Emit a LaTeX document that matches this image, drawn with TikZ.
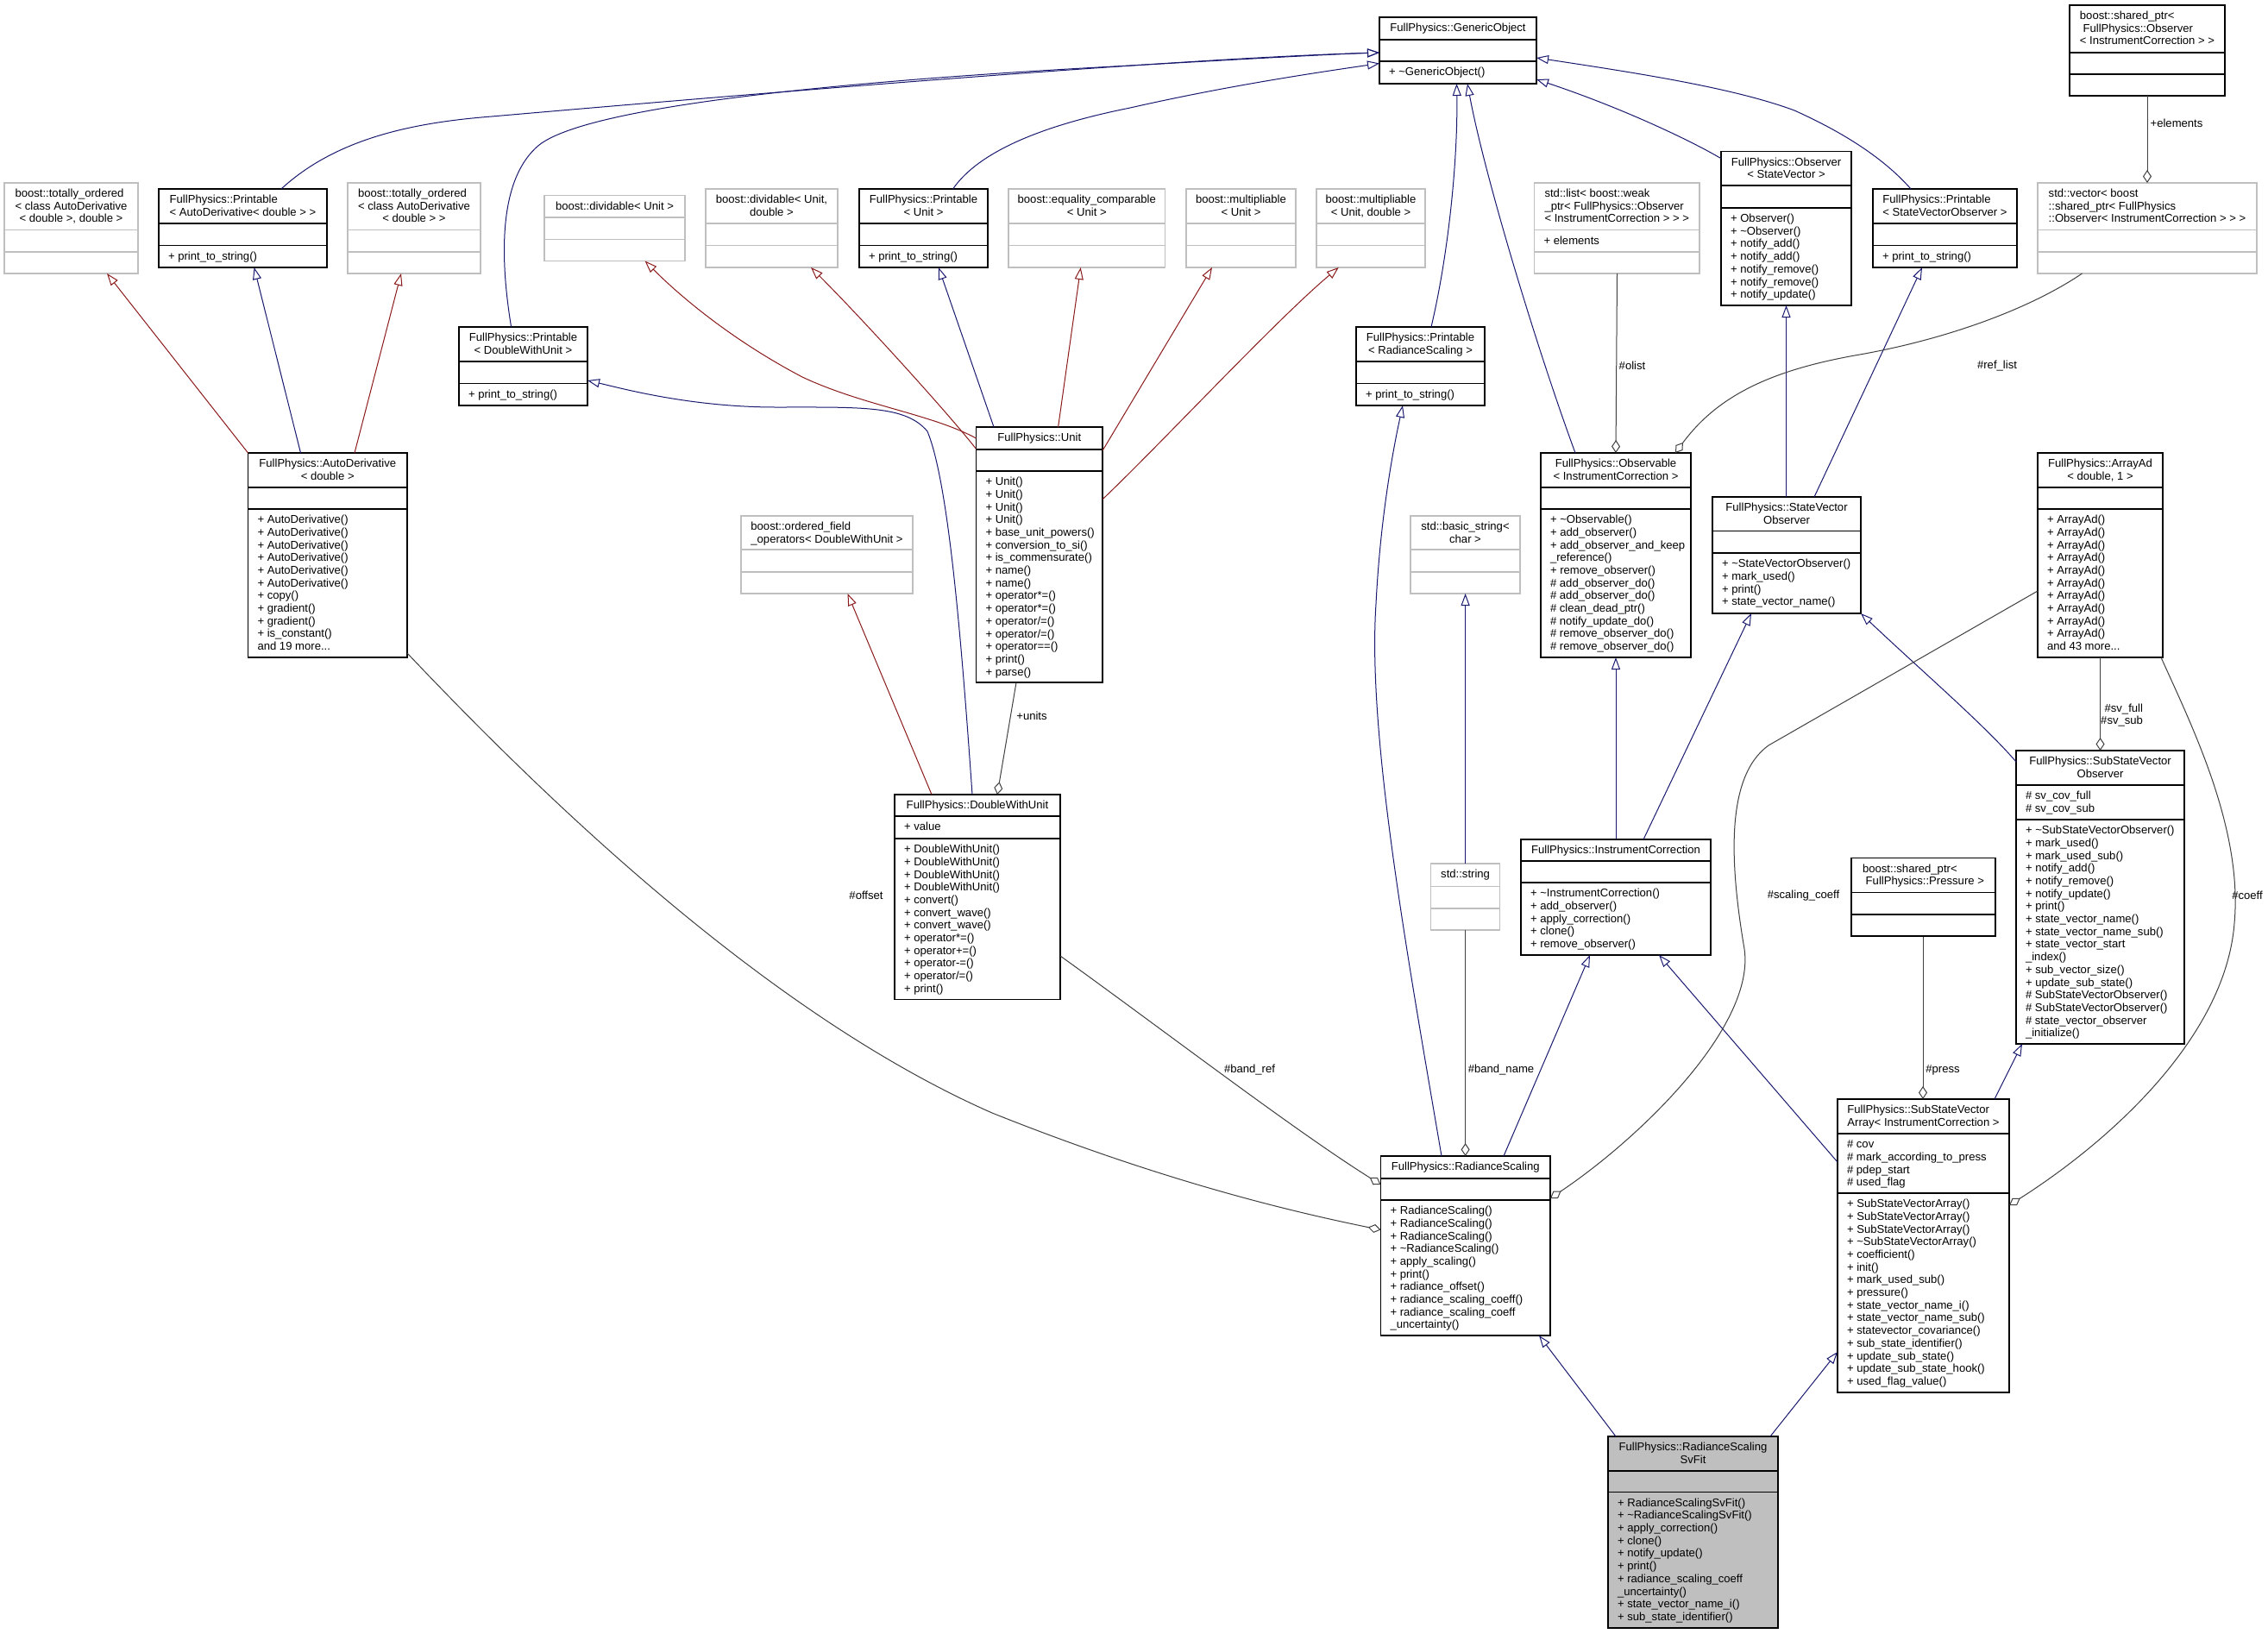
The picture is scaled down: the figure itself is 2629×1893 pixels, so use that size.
\documentclass[tikz,border=0pt]{standalone}
\usepackage{fontspec}
\setmainfont{Liberation Sans}
\usetikzlibrary{arrows.meta,calc}
\definecolor{inhblue}{HTML}{191970}
\definecolor{inhred}{HTML}{8B1A1A}
\definecolor{usegray}{HTML}{404040}
\definecolor{boxgray}{HTML}{BFBFBF}
\newlength{\lalignlen}
\newcommand{\lalign}[2]{\settowidth{\lalignlen}{#1}\makebox[\lalignlen][l]{#2}}
\newcommand{\cls}[9]{%
  \node[#2, anchor=north west, minimum width={(#5)-(#3)}, minimum height={(#6)-(#4)}] (#1) at (#3,#4) {};
  \draw[#2 div] (#3,#7) -- (#5,#7) (#3,#8) -- (#5,#8);
  \node[txt, align=center, anchor=north] (#1-title) at ({(#3+#5)/2},{#4+6.3}) {\strut #9};
  \gdef\clsX{#3}\gdef\clsA{#7}\gdef\clsB{#8}\gdef\clsN{#1}%
}
\newcommand{\attrs}[1]{\node[txt, align=left, anchor=north west] (\clsN-attrs) at ({\clsX+11},{\clsA+6.3}) {\strut #1};}
\newcommand{\meths}[1]{\node[txt, align=left, anchor=north west] (\clsN-meths) at ({\clsX+11},{\clsB+6.3}) {\strut #1};}
\tikzset{
  cbox/.style={draw=black, fill=white, line width=1.3pt, inner sep=0pt, outer sep=0pt},
  cbox div/.style={draw=black, line width=1.3pt},
  gbox/.style={draw=boxgray, fill=white, line width=1.3pt, inner sep=0pt, outer sep=0pt},
  gbox div/.style={draw=boxgray, line width=1.3pt},
  sbox/.style={draw=black, fill=boxgray, line width=1.3pt, inner sep=0pt, outer sep=0pt},
  sbox div/.style={draw=black, line width=1.3pt},
  txt/.style={inner sep=0pt, outer sep=0pt, font=\fontsize{13.1}{14.7}\selectfont},
  inhB/.style={draw=inhblue, line width=1pt, -{Triangle[open, length=14pt, width=10pt]}},
  inhR/.style={draw=inhred, line width=1pt, -{Triangle[open, length=14pt, width=10pt]}},
  aggr/.style={draw=usegray, line width=1pt, {Diamond[open, length=15pt, width=10pt]}-},
}
\begin{document}
\begin{tikzpicture}[x=1pt,y=-1pt]
\path[fill=white, use as bounding box] (0,0) rectangle (2629,1893);

% ---------- classes ----------
\cls{TO1}{gbox}{5}{212}{160}{317}{266.5}{292}{\lalign{< class AutoDerivative}{boost::totally\_ordered}\\< class AutoDerivative\\< double >, double >}
\cls{PrAD}{cbox}{184}{219}{379}{310}{259}{284.5}{\lalign{< AutoDerivative< double > >}{FullPhysics::Printable}\\< AutoDerivative< double > >}
\meths{+ print\_to\_string()}
\cls{TO2}{gbox}{403}{212}{557}{317}{266.5}{292}{\lalign{< class AutoDerivative}{boost::totally\_ordered}\\< class AutoDerivative\\< double > >}
\cls{divA}{gbox}{631}{226.5}{794}{302.5}{252}{277.5}{boost::dividable< Unit >}
\cls{divB}{gbox}{818}{219}{971}{310}{259}{284.5}{boost::dividable< Unit,\\double >}
\cls{PrUnit}{cbox}{996}{219}{1145}{310}{259}{284.5}{FullPhysics::Printable\\< Unit >}
\meths{+ print\_to\_string()}
\cls{eqc}{gbox}{1169}{219}{1350.5}{310}{259}{284.5}{boost::equality\_comparable\\< Unit >}
\cls{multA}{gbox}{1375}{219}{1502}{310}{259}{284.5}{boost::multipliable\\< Unit >}
\cls{multB}{gbox}{1526}{219}{1652}{310}{259}{284.5}{boost::multipliable\\< Unit, double >}
\cls{GO}{cbox}{1599}{20}{1781}{97}{46}{71}{FullPhysics::GenericObject}
\meths{+ \textasciitilde GenericObject()}
\cls{list}{gbox}{1778.5}{212}{1970}{317}{266.5}{292}{\lalign{< InstrumentCorrection > > >}{std::list< boost::weak}\\\lalign{< InstrumentCorrection > > >}{\_ptr< FullPhysics::Observer}\\< InstrumentCorrection > > >}
\attrs{+ elements}
\cls{ObsSV}{cbox}{1995}{175.5}{2146}{354}{215}{241}{FullPhysics::Observer\\< StateVector >}
\meths{+ Observer()\\+ \textasciitilde Observer()\\+ notify\_add()\\+ notify\_add()\\+ notify\_remove()\\+ notify\_remove()\\+ notify\_update()}
\cls{PrSVO}{cbox}{2171}{219}{2338}{310}{259}{284.5}{\lalign{< StateVectorObserver >}{FullPhysics::Printable}\\< StateVectorObserver >}
\meths{+ print\_to\_string()}
\cls{spobs}{cbox}{2399}{6}{2579}{111}{61}{86}{\lalign{< InstrumentCorrection > >}{boost::shared\_ptr<}\\\lalign{< InstrumentCorrection > >}{\ FullPhysics::Observer}\\< InstrumentCorrection > >}
\cls{vec}{gbox}{2362}{212}{2616}{317}{266.5}{292}{\lalign{::Observer< InstrumentCorrection > > >}{std::vector< boost}\\\lalign{::Observer< InstrumentCorrection > > >}{::shared\_ptr< FullPhysics}\\::Observer< InstrumentCorrection > > >}
\cls{PrDWU}{cbox}{532}{379}{681}{470}{419}{444.5}{FullPhysics::Printable\\< DoubleWithUnit >}
\meths{+ print\_to\_string()}
\cls{PrRS}{cbox}{1572}{379}{1721}{470}{419}{444.5}{FullPhysics::Printable\\< RadianceScaling >}
\meths{+ print\_to\_string()}
\cls{AD}{cbox}{287.5}{525}{472}{762}{565}{590}{FullPhysics::AutoDerivative\\< double >}
\meths{+ AutoDerivative()\\+ AutoDerivative()\\+ AutoDerivative()\\+ AutoDerivative()\\+ AutoDerivative()\\+ AutoDerivative()\\+ copy()\\+ gradient()\\+ gradient()\\+ is\_constant()\\and 19 more...}
\cls{Unit}{cbox}{1131.5}{495}{1278}{791}{521}{546}{FullPhysics::Unit}
\meths{+ Unit()\\+ Unit()\\+ Unit()\\+ Unit()\\+ base\_unit\_powers()\\+ conversion\_to\_si()\\+ is\_commensurate()\\+ name()\\+ name()\\+ operator*=()\\+ operator*=()\\+ operator/=()\\+ operator/=()\\+ operator==()\\+ print()\\+ parse()}
\cls{Obs}{cbox}{1786}{525}{1960}{762}{565}{590}{FullPhysics::Observable\\< InstrumentCorrection >}
\meths{+ \textasciitilde Observable()\\+ add\_observer()\\+ add\_observer\_and\_keep\\\_reference()\\+ remove\_observer()\\\# add\_observer\_do()\\\# add\_observer\_do()\\\# clean\_dead\_ptr()\\\# notify\_update\_do()\\\# remove\_observer\_do()\\\# remove\_observer\_do()}
\cls{SVO}{cbox}{1985}{576}{2157}{711}{615.5}{641}{FullPhysics::StateVector\\Observer}
\meths{+ \textasciitilde StateVectorObserver()\\+ mark\_used()\\+ print()\\+ state\_vector\_name()}
\cls{ArrAd}{cbox}{2362}{525}{2507}{762}{565}{590}{FullPhysics::ArrayAd\\< double, 1 >}
\meths{+ ArrayAd()\\+ ArrayAd()\\+ ArrayAd()\\+ ArrayAd()\\+ ArrayAd()\\+ ArrayAd()\\+ ArrayAd()\\+ ArrayAd()\\+ ArrayAd()\\+ ArrayAd()\\and 43 more...}
\cls{ofo}{gbox}{859}{598}{1058}{688}{637}{663}{\lalign{\_operators< DoubleWithUnit >}{boost::ordered\_field}\\\_operators< DoubleWithUnit >}
\cls{bstr}{gbox}{1635}{598}{1762}{688}{637}{663}{std::basic\_string<\\char >}
\cls{DWU}{cbox}{1037}{921}{1229}{1158.6}{946}{972}{FullPhysics::DoubleWithUnit}
\attrs{+ value}
\meths{+ DoubleWithUnit()\\+ DoubleWithUnit()\\+ DoubleWithUnit()\\+ DoubleWithUnit()\\+ convert()\\+ convert\_wave()\\+ convert\_wave()\\+ operator*=()\\+ operator+=()\\+ operator-=()\\+ operator/=()\\+ print()}
\cls{SSVO}{cbox}{2337}{870}{2532}{1210}{910}{950}{FullPhysics::SubStateVector\\Observer}
\attrs{\# sv\_cov\_full\\\# sv\_cov\_sub}
\meths{+ \textasciitilde SubStateVectorObserver()\\+ mark\_used()\\+ mark\_used\_sub()\\+ notify\_add()\\+ notify\_remove()\\+ notify\_update()\\+ print()\\+ state\_vector\_name()\\+ state\_vector\_name\_sub()\\+ state\_vector\_start\\\_index()\\+ sub\_vector\_size()\\+ update\_sub\_state()\\\# SubStateVectorObserver()\\\# SubStateVectorObserver()\\\# state\_vector\_observer\\\_initialize()}
\cls{str}{gbox}{1658.6}{1001}{1738.6}{1078}{1027.5}{1053}{std::string}
\cls{IC}{cbox}{1763}{973}{1983}{1107}{998}{1023}{FullPhysics::InstrumentCorrection}
\meths{+ \textasciitilde InstrumentCorrection()\\+ add\_observer()\\+ apply\_correction()\\+ clone()\\+ remove\_observer()}
\cls{sppr}{cbox}{2146}{994.5}{2313}{1085}{1034.5}{1060}{\lalign{\ FullPhysics::Pressure >}{boost::shared\_ptr<}\\\ FullPhysics::Pressure >}
\cls{SSVA}{cbox}{2130}{1274}{2329}{1614}{1314}{1383}{\lalign{Array< InstrumentCorrection >}{FullPhysics::SubStateVector}\\Array< InstrumentCorrection >}
\attrs{\# cov\\\# mark\_according\_to\_press\\\# pdep\_start\\\# used\_flag}
\meths{+ SubStateVectorArray()\\+ SubStateVectorArray()\\+ SubStateVectorArray()\\+ \textasciitilde SubStateVectorArray()\\+ coefficient()\\+ init()\\+ mark\_used\_sub()\\+ pressure()\\+ state\_vector\_name\_i()\\+ state\_vector\_name\_sub()\\+ statevector\_covariance()\\+ sub\_state\_identifier()\\+ update\_sub\_state()\\+ update\_sub\_state\_hook()\\+ used\_flag\_value()}
\cls{RS}{cbox}{1600.5}{1340}{1797}{1548}{1366}{1391}{FullPhysics::RadianceScaling}
\meths{+ RadianceScaling()\\+ RadianceScaling()\\+ RadianceScaling()\\+ \textasciitilde RadianceScaling()\\+ apply\_scaling()\\+ print()\\+ radiance\_offset()\\+ radiance\_scaling\_coeff()\\+ radiance\_scaling\_coeff\\\_uncertainty()}
\cls{RSSF}{sbox}{1864}{1665}{2061}{1887}{1705}{1729.5}{FullPhysics::RadianceScaling\\SvFit}
\meths{+ RadianceScalingSvFit()\\+ \textasciitilde RadianceScalingSvFit()\\+ apply\_correction()\\+ clone()\\+ notify\_update()\\+ print()\\+ radiance\_scaling\_coeff\\\_uncertainty()\\+ state\_vector\_name\_i()\\+ sub\_state\_identifier()}

% ---------- inheritance ----------
\draw[inhR] (AD.north west) -- ($(TO1.north west)+(119,105)$);
\draw[inhB] ($(AD.north west)+(61,0)$) -- ($(PrAD.north west)+(110.6,91)$);
\draw[inhR] ($(AD.north west)+(123.5,0)$) -- ($(TO2.north west)+(62,105)$);
\draw[inhB] ($(PrAD.north west)+(142,0)$) .. controls (390,160) and (480,142) .. (570,135) .. controls (800,115) and (1350,68) .. ($(GO.north west)+(0,41)$);
\draw[inhB] ($(PrDWU.north west)+(60.6,0)$) .. controls (578,290) and (580,205) .. (625,168) .. controls (680,125) and (950,95) .. (1310,76) .. controls (1450,68) and (1540,63) .. ($(GO.north west)+(0,41)$);
\draw[inhB] ($(PrUnit.north west)+(108.6,0)$) .. controls (1135,175) and (1210,145) .. (1310,125) .. controls (1420,100) and (1520,85) .. ($(GO.north west)+(0,53.5)$);
\draw[inhB] ($(PrSVO.north west)+(44,0)$) .. controls (2185,185) and (2140,155) .. (2080,128) .. controls (2010,102) and (1900,85) .. ($(GO.north west)+(182,47)$);
\draw[inhB] ($(ObsSV.north west)+(0,8.2)$) .. controls (1960,163) and (1880,125) .. ($(GO.north west)+(182,72)$);
\draw[inhB] ($(PrRS.north west)+(87,0)$) .. controls (1680,290) and (1690,180) .. ($(GO.north west)+(89.5,77)$);
\draw[inhB] ($(Obs.north west)+(40,0)$) .. controls (1780,400) and (1720,200) .. ($(GO.north west)+(102,77)$);
\draw[inhR] ($(DWU.north west)+(43,0)$) -- ($(ofo.north west)+(123.5,90)$);
\draw[inhB] ($(DWU.north west)+(90,0)$) .. controls (1115,750) and (1100,560) .. (1075,500) .. controls (1050,470) and (1000,472) .. (900,472) .. controls (800,472) and (720,450) .. ($(PrDWU.north west)+(149,62)$);
\draw[inhR] ($(Unit.north west)+(0,13)$) .. controls (1080,480) and (1000,470) .. (930,437) .. controls (850,395) and (790,345) .. ($(divA.north west)+(116.6,76)$);
\draw[inhR] ($(Unit.north west)+(0,25.4)$) .. controls (1100,480) and (1000,370) .. ($(divB.north west)+(122,91)$);
\draw[inhB] ($(Unit.north west)+(20.5,0)$) -- ($(PrUnit.north west)+(92,91)$);
\draw[inhR] ($(Unit.north west)+(95.1,0)$) -- ($(eqc.north west)+(83.7,91)$);
\draw[inhR] ($(Unit.north west)+(146.5,27.4)$) -- ($(multA.north west)+(30,91)$);
\draw[inhR] ($(Unit.north west)+(146.5,83.8)$) .. controls (1350,510) and (1480,370) .. ($(multB.north west)+(25.7,91)$);
\draw[inhB] ($(str.north west)+(40,0)$) -- ($(bstr.north west)+(63.6,90)$);
\draw[inhB] ($(RS.north west)+(70.5,0)$) .. controls (1630,1100) and (1585,850) .. (1595,700) .. controls (1600,600) and (1615,520) .. ($(PrRS.north west)+(54,91)$);
\draw[inhB] ($(RS.north west)+(142.5,0)$) -- ($(IC.north west)+(80,134)$);
\draw[inhB] ($(IC.north west)+(110,0)$) -- ($(Obs.north west)+(87,237)$);
\draw[inhB] ($(SSVA.north west)+(0,73)$) -- ($(IC.north west)+(160,134)$);
\draw[inhB] ($(IC.north west)+(142,0)$) -- ($(SVO.north west)+(45,135)$);
\draw[inhB] ($(SVO.north west)+(85.5,0)$) -- ($(ObsSV.north west)+(75.5,178.5)$);
\draw[inhB] ($(SVO.north west)+(118,0)$) -- ($(PrSVO.north west)+(57,91)$);
\draw[inhB] ($(SSVO.north west)+(0,13)$) .. controls (2300,840) and (2230,780) .. ($(SVO.north west)+(172,135)$);
\draw[inhB] ($(SSVA.north west)+(182,0)$) -- ($(SSVO.north west)+(7,340)$);
\draw[inhB] ($(RSSF.north west)+(9,0)$) -- ($(RS.north west)+(183.5,208)$);
\draw[inhB] ($(RSSF.north west)+(188,0)$) -- ($(SSVA.north west)+(0,293)$);

% ---------- usage ----------
\draw[aggr] ($(DWU.north west)+(119,0)$) -- ($(Unit.north west)+(46.5,296)$);
\draw[aggr] ($(RS.north west)+(0,85.5)$) .. controls (1500,1405) and (1350,1370) .. (1150,1290) .. controls (900,1180) and (650,945) .. ($(AD.north west)+(184.5,232)$);
\draw[aggr] ($(RS.north west)+(0,33)$) .. controls (1500,1310) and (1350,1195) .. ($(DWU.north west)+(192,187)$);
\draw[aggr] ($(RS.north west)+(98.1,0)$) -- ($(str.north west)+(40,77)$);
\draw[aggr] ($(Obs.north west)+(87,0)$) -- ($(list.north west)+(96,105)$);
\draw[aggr] ($(Obs.north west)+(156,0)$) .. controls (1990,460) and (2050,430) .. (2150,412) .. controls (2250,395) and (2350,360) .. ($(vec.north west)+(51.5,105)$);
\draw[aggr] ($(vec.north west)+(127,0)$) -- ($(spobs.north west)+(90,105)$);
\draw[aggr] ($(SSVO.north west)+(97.5,0)$) -- ($(ArrAd.north west)+(72.5,237)$);
\draw[aggr] ($(RS.north west)+(196.5,49)$) .. controls (1900,1320) and (2035,1190) .. (2022,1100) .. controls (2005,1000) and (2000,900) .. (2050,864) -- ($(ArrAd.north west)+(0,160)$);
\draw[aggr] ($(SSVA.north west)+(199,123)$) .. controls (2450,1320) and (2580,1200) .. (2590,1070) .. controls (2600,960) and (2540,840) .. ($(ArrAd.north west)+(143,237)$);
\draw[aggr] ($(SSVA.north west)+(99,0)$) -- ($(sppr.north west)+(83,91)$);

% ---------- labels ----------
\node[txt] (lunits) at (1196,830) {+units};
\node[txt] (loffset) at (1004,1038) {\#offset};
\node[txt] (lbandref) at (1448.5,1240) {\#band\_ref};
\node[txt] (lbandname) at (1740,1240) {\#band\_name};
\node[txt] (lolist) at (1892,424) {\#olist};
\node[txt] (lreflist) at (2315,424) {\#ref\_list};
\node[txt] (lelements) at (2523,143) {+elements};
\node[txt, align=right, anchor=east] (lsv) at (2484,829) {\#sv\_full\\\#sv\_sub};
\node[txt] (lscal) at (2090.5,1038) {\#scaling\_coeff};
\node[txt] (lpress) at (2252,1240) {\#press};
\node[txt] (lcoeff) at (2605,1038) {\#coeff};
\end{tikzpicture}
\end{document}
